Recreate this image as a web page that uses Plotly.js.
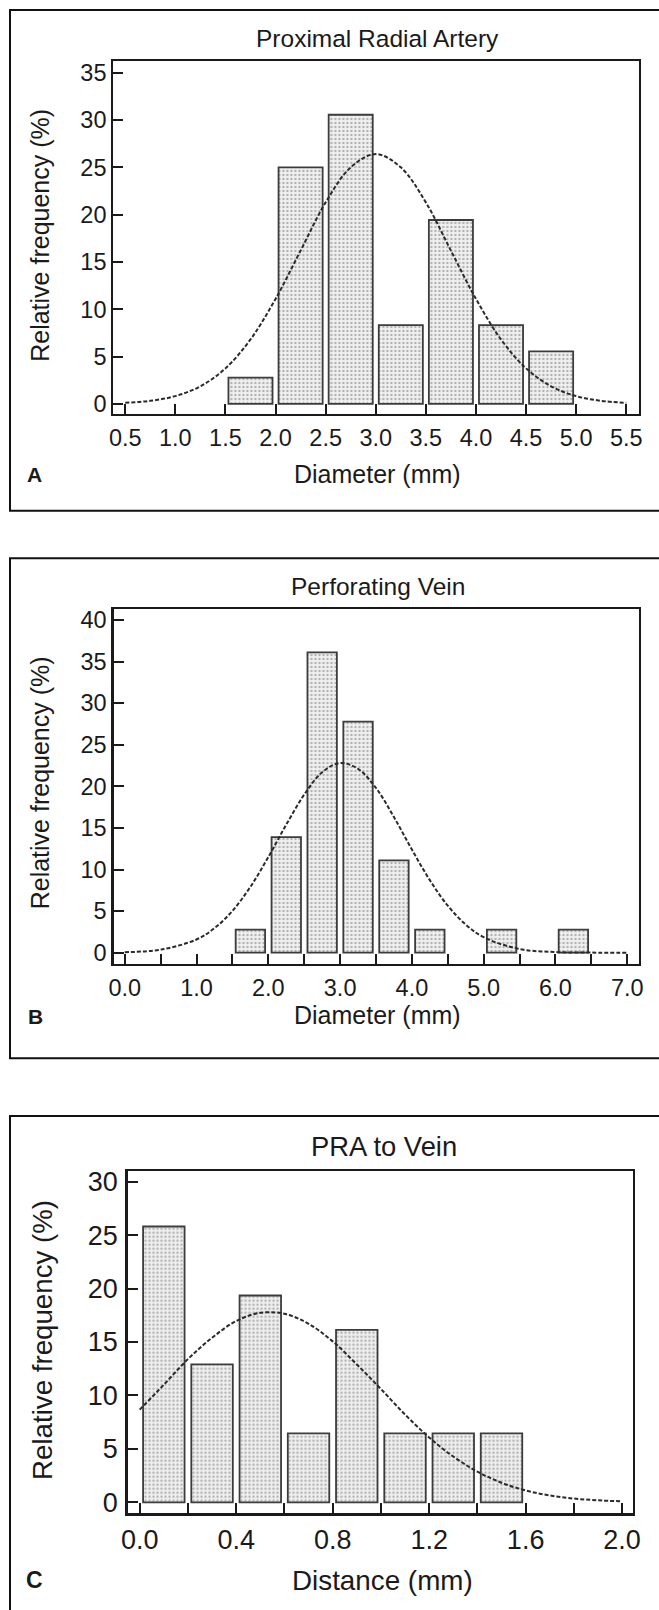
<!DOCTYPE html>
<html>
<head>
<meta charset="utf-8">
<script src="https://cdn.plot.ly/plotly-3.0.1.min.js"></script>
<style>
html,body{margin:0;padding:0;background:#fff;}
#chart{width:659px;height:1610px;}
</style>
</head>
<body>
<div id="chart"></div>
<script>
// ---------- data ----------
// Panel A: Proximal Radial Artery (diameter, mm)
const binCentersA = [1.75, 2.25, 2.75, 3.25, 3.75, 4.25, 4.75];
const freqA = [2.78, 25.0, 30.56, 8.33, 19.44, 8.33, 5.56];
const curveAx = [0.5, 0.75, 1.0, 1.25, 1.5, 1.75, 2.0, 2.25, 2.5, 2.75, 3.0, 3.25, 3.5, 3.75, 4.0, 4.25, 4.5, 4.75, 5.0, 5.25, 5.5];
const curveAy = [0.12, 0.33, 0.83, 1.87, 3.76, 6.82, 11.1, 16.2, 21.3, 25.0, 26.4, 25.0, 21.3, 16.2, 11.1, 6.82, 3.76, 1.87, 0.83, 0.33, 0.12];
const xTicksA = [0.5, 1.0, 1.5, 2.0, 2.5, 3.0, 3.5, 4.0, 4.5, 5.0, 5.5];

// Panel B: Perforating Vein (diameter, mm)
const binCentersB = [1.75, 2.25, 2.75, 3.25, 3.75, 4.25, 5.25, 6.25];
const freqB = [2.78, 13.89, 36.11, 27.78, 11.11, 2.78, 2.78, 2.78];
const curveBx = [0.0, 0.5, 1.0, 1.25, 1.5, 1.75, 2.0, 2.25, 2.5, 2.75, 3.0, 3.25, 3.5, 3.75, 4.0, 4.25, 4.5, 4.75, 5.0, 5.5, 6.0, 6.5, 7.0];
const curveBy = [0.06, 0.37, 1.59, 2.95, 5.03, 7.91, 11.5, 15.4, 19.0, 21.7, 22.8, 22.1, 19.8, 16.3, 12.4, 8.72, 5.65, 3.38, 1.86, 0.44, 0.08, 0.01, 0.0];

// Panel C: PRA to Vein (distance, mm)
const binCentersC = [0.1, 0.3, 0.5, 0.7, 0.9, 1.1, 1.3, 1.5];
const freqC = [25.81, 12.90, 19.35, 6.45, 16.13, 6.45, 6.45, 6.45];
const curveCx = [0.0, 0.1, 0.2, 0.3, 0.4, 0.5, 0.6, 0.7, 0.8, 0.9, 1.0, 1.1, 1.2, 1.3, 1.4, 1.5, 1.6, 1.7, 1.8, 1.9, 2.0];
const curveCy = [8.67, 11.0, 13.4, 15.4, 16.96, 17.73, 17.64, 16.7, 15.06, 12.9, 10.6, 8.21, 6.07, 4.28, 2.87, 1.83, 1.11, 0.64, 0.35, 0.185, 0.09];

const titles = ["Proximal Radial Artery", "Perforating Vein", "PRA to Vein"];
const xTitles = ["Diameter (mm)", "Diameter (mm)", "Distance (mm)"];
const yTitle = "Relative frequency (%)";
const panelLetters = ["A", "B", "C"];

// ---------- layout helpers ----------
const W = 659, H = 1610;
const px = v => v / W;
const py = v => 1 - v / H;
const FONT = "Liberation Sans, Arial, Helvetica, sans-serif";
const INK = "#1a1a1a";

function barTrace(x, y, width, xa, ya) {
  return {
    type: "bar", x: x, y: y, width: width, xaxis: xa, yaxis: ya,
    marker: {
      color: "#eeeeee",
      line: {color: "#3c3c3c", width: 1.8},
      pattern: {shape: ".", fgcolor: "#b4b4b4", bgcolor: "#f1f1f1", size: 4, solidity: 0.3}
    },
    hoverinfo: "skip", showlegend: false
  };
}
function curveTrace(x, y, xa, ya) {
  return {
    type: "scatter", mode: "lines", x: x, y: y, xaxis: xa, yaxis: ya,
    line: {color: "#2a2a2a", width: 2, dash: "4px,2px", shape: "spline", smoothing: 1},
    hoverinfo: "skip", showlegend: false
  };
}
function xAxis(domain, range, anchor, dtick, tick0, minor, fontSize, standoff) {
  const a = {
    domain: domain, range: range, anchor: anchor,
    showline: true, mirror: true, linewidth: 2.2, linecolor: INK,
    ticks: "inside", ticklen: 10, tickwidth: 2, tickcolor: INK,
    dtick: dtick, tick0: tick0, tickformat: ".1f",
    showgrid: false, zeroline: false,
    tickfont: {family: FONT, size: fontSize, color: INK},
    ticklabelstandoff: standoff, fixedrange: true
  };
  if (minor) a.minor = {dtick: minor, ticks: "inside", ticklen: 10, tickwidth: 2, tickcolor: INK, showgrid: false};
  return a;
}
function yAxis(domain, range, anchor, fontSize, standoff) {
  return {
    domain: domain, range: range, anchor: anchor,
    showline: true, mirror: true, linewidth: 2.2, linecolor: INK,
    ticks: "inside", ticklen: 10, tickwidth: 2, tickcolor: INK,
    dtick: 5, tick0: 0,
    showgrid: false, zeroline: false,
    tickfont: {family: FONT, size: fontSize, color: INK},
    ticklabelstandoff: standoff, fixedrange: true
  };
}
function ann(text, x, y, size, opts) {
  return Object.assign({
    text: text, x: px(x), y: py(y), xref: "paper", yref: "paper",
    xanchor: "center", yanchor: "middle", showarrow: false,
    font: {family: FONT, size: size, color: INK}
  }, opts || {});
}
function box(y0, y1) {
  return {type: "rect", xref: "paper", yref: "paper",
    x0: px(10), x1: px(720), y0: py(y1), y1: py(y0),
    line: {color: "#111", width: 2}, fillcolor: "rgba(0,0,0,0)"};
}

const data = [
  barTrace(binCentersA, freqA, 0.44, "x", "y"),
  curveTrace(curveAx, curveAy, "x", "y"),
  barTrace(binCentersB, freqB, 0.41, "x2", "y2"),
  curveTrace(curveBx, curveBy, "x2", "y2"),
  barTrace(binCentersC, freqC, 0.172, "x3", "y3"),
  curveTrace(curveCx, curveCy, "x3", "y3")
];

const xaA = xAxis([px(113.4), px(638.7)], [0.382, 5.624], "y", 0.5, 0.5, null, 23.5, 2);
xaA.tickvals = xTicksA;

const layout = {
  width: W, height: H,
  margin: {l: 0, r: 0, t: 0, b: 0},
  paper_bgcolor: "#ffffff", plot_bgcolor: "#ffffff",
  showlegend: false, barmode: "overlay",
  font: {family: FONT, color: INK},
  xaxis: xaA,
  yaxis: yAxis([py(414), py(61)], [-1.06, 36.24], "x", 23.5, 0),
  xaxis2: xAxis([px(113.5), px(639)], [-0.157, 7.164], "y2", 1, 0, 0.5, 23.5, 2),
  yaxis2: yAxis([py(964), py(609)], [-1.36, 41.32], "x2", 23.5, 0),
  xaxis3: xAxis([px(127.5), px(632.6)], [-0.0506, 2.0435], "y3", 0.4, 0, 0.2, 27, 1),
  yaxis3: yAxis([py(1513.3), py(1170.7)], [-1.03, 31.03], "x3", 27, 2),
  shapes: [box(10, 510.7), box(558.3, 1058.3), box(1116, 1700)],
  annotations: [
    ann(titles[0], 377.2, 38.3, 24.5),
    ann(xTitles[0], 377, 474, 25),
    ann(yTitle, 40, 235.8, 25, {textangle: -90}),
    ann("<b>" + panelLetters[0] + "</b>", 34, 474, 21),

    ann(titles[1], 377.5, 586.7, 24.5),
    ann(xTitles[1], 377, 1015, 25),
    ann(yTitle, 40, 783.3, 25, {textangle: -90}),
    ann("<b>" + panelLetters[1] + "</b>", 35, 1016, 21),

    ann(titles[2], 383.5, 1146.7, 27.4),
    ann(xTitles[2], 382.6, 1580, 27.8),
    ann(yTitle, 42, 1340, 27.7, {textangle: -90}),
    ann("<b>" + panelLetters[2] + "</b>", 34.7, 1580, 23)
  ]
};

Plotly.newPlot("chart", data, layout, {displayModeBar: false, staticPlot: true});
</script>
</body>
</html>
